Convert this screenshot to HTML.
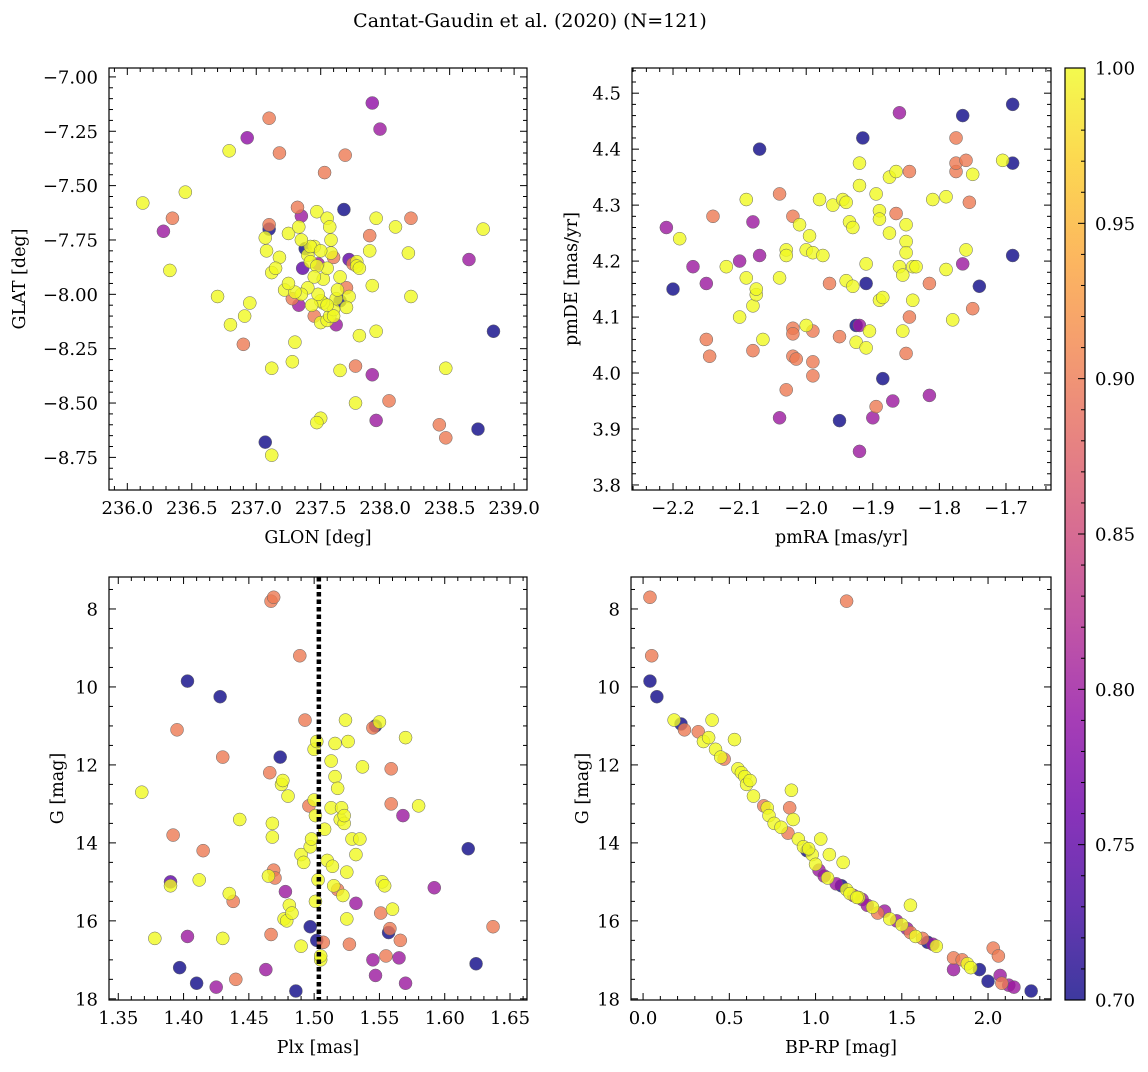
<!DOCTYPE html>
<html><head><meta charset="utf-8">
<style>
body{margin:0;background:#fff;}
svg text{font-family:"DejaVu Serif","Liberation Serif",serif;fill:#000;}
</style></head>
<body>
<svg id="fig" width="1148" height="1067" xmlns="http://www.w3.org/2000/svg">
<defs>
<linearGradient id="plasma" x1="0" y1="1" x2="0" y2="0">
<stop offset="0" stop-color="#0d0887"/><stop offset="0.1" stop-color="#41049d"/><stop offset="0.2" stop-color="#6a00a8"/><stop offset="0.3" stop-color="#8f0da4"/><stop offset="0.4" stop-color="#b12a90"/><stop offset="0.5" stop-color="#cc4778"/><stop offset="0.6" stop-color="#e16462"/><stop offset="0.7" stop-color="#f2844b"/><stop offset="0.8" stop-color="#fca636"/><stop offset="0.9" stop-color="#fcce25"/><stop offset="1" stop-color="#f0f921"/>
</linearGradient>
</defs>
<text x="530" y="27" text-anchor="middle" font-size="19">Cantat-Gaudin et al. (2020) (N=121)</text>
</svg>
<script>
// Panel 1: GLON / GLAT
const glon=[236.12,236.35,236.28,236.33,236.45,236.79,236.93,237.10,237.18,237.90,237.96,237.53,237.69,236.70,236.80,236.91,236.95,236.90,237.07,237.12,237.12,237.28,237.30,237.07,237.08,237.10,237.10,237.12,237.18,237.15,237.22,237.25,237.28,237.32,237.35,237.33,237.38,237.36,237.40,237.42,237.45,237.48,237.47,237.55,237.57,237.58,237.60,237.68,237.72,237.75,237.78,237.78,237.88,237.93,238.08,238.20,238.18,238.20,238.76,238.65,238.84,238.47,238.72,238.42,238.47,238.03,237.90,237.93,237.93,237.90,237.77,237.77,237.80,237.65,237.50,237.47,237.45,237.50,237.55,237.57,237.60,237.62,237.65,237.62,237.63,237.70,237.72,237.70,237.52,237.50,237.48,237.43,237.40,237.35,237.33,237.30,237.52,237.55,237.47,237.45,237.65,237.80,237.88,237.42,237.50,237.58,237.35,237.60,237.55,237.25];
const glat=[-7.58,-7.65,-7.71,-7.89,-7.53,-7.34,-7.28,-7.19,-7.35,-7.12,-7.24,-7.44,-7.36,-8.01,-8.14,-8.10,-8.04,-8.23,-8.68,-8.74,-8.34,-8.31,-8.22,-7.74,-7.80,-7.68,-7.70,-7.90,-7.83,-7.88,-7.98,-7.72,-8.02,-7.60,-7.64,-7.69,-7.79,-7.88,-7.82,-7.85,-7.78,-7.86,-7.62,-7.65,-7.69,-7.81,-7.83,-7.61,-7.84,-7.86,-7.85,-7.87,-7.73,-7.65,-7.69,-7.65,-7.81,-8.01,-7.70,-7.84,-8.17,-8.34,-8.62,-8.60,-8.66,-8.49,-8.37,-8.58,-8.17,-7.96,-8.33,-8.50,-8.19,-8.35,-8.57,-8.59,-8.10,-8.13,-8.12,-8.10,-8.07,-8.14,-8.03,-8.02,-7.98,-7.97,-8.01,-8.06,-8.04,-8.03,-8.00,-8.05,-7.97,-8.00,-8.05,-7.99,-7.93,-7.88,-7.87,-7.92,-7.92,-7.88,-7.80,-7.78,-7.80,-7.75,-7.75,-8.10,-8.05,-7.95];
const prob1=[1,.9,.8,1,1,1,.79,.9,.9,.79,.8,.9,.9,1,1,1,1,.9,.7,1,1,1,1,1,1,.9,.7,1,1,1,1,1,.9,.9,.8,1,.7,.75,1,1,1,.8,1,1,1,1,.9,.7,.75,.9,1,1,.9,1,1,.9,1,1,1,.8,.7,1,.7,.9,.9,.9,.8,.8,1,1,.9,1,1,1,1,1,.9,1,1,1,1,.8,.7,1,1,.9,1,1,1,1,1,1,1,1,.8,1,1,1,1,1,1,1,1,1,1,1,1,1,1,1];
// Panel 2: pmRA / pmDE
const pmra=[-2.21,-2.19,-2.2,-2.17,-2.15,-2.14,-2.15,-2.145,-2.12,-2.10,-2.09,-2.10,-2.09,-2.08,-2.075,-2.075,-2.08,-2.07,-2.07,-2.065,-2.08,-2.04,-2.04,-2.03,-2.03,-2.03,-2.04,-2.02,-2.02,-2.02,-2.02,-2.015,-2.01,-2.00,-2.00,-1.995,-1.99,-1.99,-1.99,-1.99,-1.98,-1.975,-1.965,-1.96,-1.95,-1.95,-1.945,-1.94,-1.94,-1.935,-1.93,-1.93,-1.925,-1.92,-1.925,-1.92,-1.92,-1.915,-1.91,-1.91,-1.905,-1.91,-1.9,-1.895,-1.92,-1.89,-1.89,-1.89,-1.885,-1.885,-1.875,-1.875,-1.87,-1.865,-1.865,-1.86,-1.86,-1.855,-1.85,-1.85,-1.85,-1.855,-1.85,-1.845,-1.845,-1.84,-1.84,-1.835,-1.815,-1.815,-1.81,-1.79,-1.79,-1.78,-1.775,-1.775,-1.775,-1.765,-1.765,-1.76,-1.76,-1.755,-1.75,-1.75,-1.74,-1.705,-1.69,-1.69,-1.69,-1.895];
const pmde=[4.26,4.24,4.15,4.19,4.16,4.28,4.06,4.03,4.19,4.20,4.31,4.10,4.17,4.12,4.14,4.15,4.27,4.21,4.40,4.06,4.04,4.32,4.17,4.22,4.21,3.97,3.92,4.28,4.08,4.07,4.03,4.025,4.265,4.22,4.085,4.245,4.215,4.075,4.02,3.995,4.31,4.21,4.16,4.30,4.065,3.915,4.31,4.305,4.165,4.27,4.26,4.155,4.085,4.085,4.055,4.375,4.335,4.42,4.16,4.195,4.075,4.045,3.92,3.94,3.86,4.29,4.275,4.13,4.135,3.99,4.25,4.35,3.95,4.36,4.285,4.465,4.19,4.175,4.235,4.215,4.265,4.075,4.035,4.36,4.10,4.13,4.19,4.19,4.16,3.96,4.31,4.315,4.185,4.095,4.42,4.36,4.375,4.46,4.195,4.38,4.22,4.305,4.355,4.115,4.155,4.38,4.48,4.375,4.21,4.32];
const prob2=[.8,1,.7,.8,.8,.9,.9,.9,1,.8,1,1,1,1,1,1,.8,.8,.7,1,.9,.9,1,1,1,.9,.8,.9,.9,.9,.9,.9,1,1,1,1,1,.9,.9,.9,1,1,.9,1,.9,.7,1,1,1,1,1,1,.7,.8,1,1,1,.7,.7,1,1,1,.8,.9,.8,1,1,1,1,.7,1,1,.8,1,.9,.8,1,1,1,1,1,1,.9,.9,.9,1,1,1,.9,.8,1,1,1,1,.9,.9,.9,.7,.8,.9,1,.9,1,.9,.7,1,.7,.7,.7,1];
// Panel 3: Plx / G
const plx=[1.368,1.378,1.39,1.39,1.392,1.395,1.397,1.403,1.403,1.41,1.412,1.415,1.425,1.428,1.43,1.43,1.435,1.438,1.44,1.443,1.463,1.465,1.466,1.467,1.469,1.468,1.468,1.469,1.467,1.47,1.474,1.475,1.476,1.478,1.477,1.479,1.48,1.481,1.483,1.486,1.489,1.49,1.49,1.492,1.493,1.496,1.497,1.497,1.498,1.5,1.5,1.501,1.501,1.502,1.502,1.505,1.505,1.503,1.507,1.508,1.51,1.513,1.513,1.514,1.515,1.516,1.518,1.516,1.518,1.52,1.521,1.522,1.523,1.523,1.524,1.525,1.525,1.526,1.527,1.529,1.532,1.532,1.535,1.537,1.545,1.545,1.547,1.547,1.55,1.551,1.552,1.554,1.555,1.557,1.558,1.559,1.559,1.56,1.566,1.565,1.568,1.57,1.57,1.58,1.592,1.618,1.624,1.637];
const gmag3=[12.7,16.45,15.0,15.1,13.8,11.1,17.2,9.85,16.4,17.6,14.95,14.2,17.7,10.25,11.8,16.45,15.3,15.5,17.5,13.4,17.25,14.85,12.2,7.8,7.7,13.5,13.85,14.7,16.35,14.9,11.8,12.5,12.4,15.25,15.95,16.0,12.8,15.6,15.8,17.8,9.2,14.3,16.65,14.5,10.85,13.05,16.15,14.1,13.9,11.6,12.9,13.3,15.5,16.5,11.4,17.0,16.9,14.95,16.55,13.65,14.45,11.9,13.1,14.6,15.1,12.3,12.6,11.45,15.2,13.4,13.1,15.35,13.5,13.3,10.85,14.75,15.95,11.4,16.6,13.9,14.3,15.55,13.9,12.05,17.0,11.05,17.4,11.0,10.9,15.8,15.0,15.1,16.9,16.3,16.2,13.0,12.1,15.7,16.5,16.95,13.3,17.6,11.3,13.05,15.15,14.15,17.1,16.15];
const prob3=[1,1,.75,1,.9,.9,.7,.7,.8,.7,1,.9,.8,.7,.9,1,1,.9,.9,1,.8,1,.9,.9,.9,1,1,.9,.9,.9,.7,1,1,.8,1,1,1,1,1,.7,.9,1,1,1,.9,.9,.7,1,1,1,1,1,1,.7,1,1,1,1,.9,1,1,1,1,1,1,1,1,1,.9,1,1,1,1,1,1,1,1,1,.9,1,1,.8,1,1,.8,.9,.8,.7,1,.9,1,1,.9,.7,.9,.9,.9,1,.9,.8,.8,.8,1,1,.8,.7,.7,.9];
const meanPlx=1.5036;
// Panel 4: BP-RP / G
const bprp=[0.04,1.18,0.05,0.04,0.08,0.18,0.22,0.24,0.32,0.35,0.38,0.40,0.42,0.45,0.47,0.53,0.55,0.57,0.59,0.60,0.62,0.64,0.70,0.72,0.73,0.76,0.80,0.84,0.85,0.86,0.87,0.90,0.93,0.95,0.98,1.00,1.02,1.03,1.05,1.07,1.08,1.12,1.15,1.16,1.18,1.20,1.22,1.25,1.27,1.30,1.33,1.36,1.40,1.43,1.47,1.50,1.53,1.55,1.55,1.58,1.62,1.65,1.68,1.70,1.80,1.80,1.85,1.88,1.90,1.95,2.00,2.03,2.06,2.07,2.08,2.12,2.15,2.25,1.24,0.96];
const gmag4=[7.7,7.8,9.2,9.85,10.25,10.85,10.95,11.1,11.15,11.4,11.3,10.85,11.6,11.8,11.85,11.35,12.1,12.2,12.3,12.5,12.4,12.8,13.05,13.1,13.3,13.5,13.6,13.75,13.1,12.65,13.4,13.9,14.1,14.2,14.3,14.55,14.7,13.9,14.85,14.9,14.3,15.05,15.1,14.5,15.2,15.3,15.35,15.4,15.45,15.6,15.65,15.8,15.75,15.95,16.0,16.1,16.2,15.6,16.3,16.4,16.45,16.55,16.6,16.65,16.95,17.25,17.0,17.1,17.2,17.25,17.55,16.7,16.9,17.4,17.6,17.65,17.7,17.8,15.4,14.15];
const prob4=[.9,.9,.9,.7,.7,1,.7,.9,.9,1,1,1,1,1,.9,1,1,1,1,1,1,1,.9,1,1,1,1,.9,.9,1,1,1,1,.7,1,1,.8,1,.8,1,1,.8,.7,1,1,1,.8,1,.8,.8,1,.9,.8,1,.8,1,.8,1,.9,1,.9,.7,.8,1,.9,.8,.9,1,1,.7,.7,.9,.9,.8,.9,.8,.8,.7,1,1];
const cbTicks=[0.70,0.75,0.80,0.85,0.90,0.95,1.00];

const NS='http://www.w3.org/2000/svg';
const svg=document.getElementById('fig');
function mk(tag,attrs,parent){const e=document.createElementNS(NS,tag);for(const k in attrs)e.setAttribute(k,attrs[k]);(parent||svg).appendChild(e);return e;}
const stops=[[13,8,135],[65,4,157],[106,0,168],[143,13,164],[177,42,144],[204,71,120],[225,100,98],[242,132,75],[252,166,54],[252,206,37],[240,249,33]];
function plasma(p){let t=(p-0.7)/0.3;t=Math.max(0,Math.min(1,t))*10;const i=Math.min(9,Math.floor(t)),f=t-i;const a=stops[i],b=stops[i+1];return 'rgb('+a.map((v,k)=>Math.round(v+(b[k]-v)*f)).join(',')+')';}
function fmt(v,d){return (v<0?'\u2212':'')+Math.abs(v).toFixed(d);}

function panel(o){
  const g=mk('g',{});
  
  
  const L=o.box[0],T=o.box[1],R=o.box[2],B=o.box[3];
  const sx=v=>L+(v-o.xr[0])/(o.xr[1]-o.xr[0])*(R-L);
  const sy=o.yinv?(v=>T+(v-o.yr[0])/(o.yr[1]-o.yr[0])*(B-T)):(v=>B-(v-o.yr[0])/(o.yr[1]-o.yr[0])*(B-T));
  const clip='clip-'+o.name;
  const cp=mk('clipPath',{id:clip},g);mk('rect',{x:L,y:T,width:R-L,height:B-T},cp);
  const pts=mk('g',{'clip-path':'url(#'+clip+')'},g);
  
  
  const idx=o.x.map((_,i)=>i).sort((a,b)=>o.p[a]-o.p[b]);
  for(const i of idx){const c=mk('circle',{cx:sx(o.x[i]),cy:sy(o.y[i]),r:6.5,fill:plasma(o.p[i]),'fill-opacity':0.8,stroke:'#666','stroke-width':0.5},pts);
    
    }
  if(o.vline!==undefined){const ln=mk('line',{x1:sx(o.vline),x2:sx(o.vline),y1:T,y2:B,stroke:'#000','stroke-width':4.5,'stroke-dasharray':'4.5,3'},g);
    
    }
  mk('rect',{x:L,y:T,width:R-L,height:B-T,fill:'none',stroke:'#000','stroke-width':1.2},g);
  const eps=1e-9;
  for(let v=Math.ceil(o.xr[0]/o.xmin-eps)*o.xmin;v<=o.xr[1]+eps;v+=o.xmin){const X=sx(v);const maj=Math.abs(v/o.xmaj-Math.round(v/o.xmaj))<1e-6;const len=maj?7:4;
    mk('line',{x1:X,x2:X,y1:B,y2:B-len,stroke:'#000','stroke-width':1},g);mk('line',{x1:X,x2:X,y1:T,y2:T+len,stroke:'#000','stroke-width':1},g);
    if(maj){const t=mk('text',{x:X,y:B+24,'text-anchor':'middle','font-size':18},g);t.textContent=fmt(v,o.xd);
      
      }}
  for(let v=Math.ceil(o.yr[0]/o.ymin-eps)*o.ymin;v<=o.yr[1]+eps;v+=o.ymin){const Y=sy(v);const maj=Math.abs(v/o.ymaj-Math.round(v/o.ymaj))<1e-6;const len=maj?7:4;
    mk('line',{x1:L,x2:L+len,y1:Y,y2:Y,stroke:'#000','stroke-width':1},g);mk('line',{x1:R,x2:R-len,y1:Y,y2:Y,stroke:'#000','stroke-width':1},g);
    if(maj){const t=mk('text',{x:L-11,y:Y+6.5,'text-anchor':'end','font-size':18},g);t.textContent=fmt(v,o.yd);
      
      }}
  const xl=mk('text',{x:(L+R)/2,y:B+53,'text-anchor':'middle','font-size':17.5},g);xl.textContent=o.xlab;
  
  
  const yl=mk('text',{x:0,y:0,'text-anchor':'middle','font-size':17.5,transform:'translate('+o.ylx+','+(T+B)/2+') rotate(-90)'},g);yl.textContent=o.ylab;
  
  
}
panel({name:'sky-position-panel',box:[109,68,527,490],x:glon,y:glat,p:prob1,xr:[235.858,239.10],yr:[-8.90,-6.959],xmaj:0.5,xmin:0.1,ymaj:0.25,ymin:0.05,xd:1,yd:2,xlab:'GLON [deg]',ylab:'GLAT [deg]',ylx:25});
panel({name:'proper-motion-panel',box:[632,68,1051,490],x:pmra,y:pmde,p:prob2,xr:[-2.2616,-1.6324],yr:[3.791,4.545],xmaj:0.1,xmin:0.02,ymaj:0.1,ymin:0.02,xd:1,yd:1,xlab:'pmRA [mas/yr]',ylab:'pmDE [mas/yr]',ylx:577});
panel({name:'parallax-magnitude-panel',box:[109,577,527,1000],x:plx,y:gmag3,p:prob3,xr:[1.3429,1.663],yr:[7.18,18.03],yinv:true,xmaj:0.05,xmin:0.01,ymaj:2,ymin:0.5,xd:2,yd:0,xlab:'Plx [mas]',ylab:'G [mag]',ylx:63,vline:meanPlx});
panel({name:'cmd-panel',box:[631,577,1051,1000],x:bprp,y:gmag4,p:prob4,xr:[-0.07,2.365],yr:[7.18,18.03],yinv:true,xmaj:0.5,xmin:0.1,ymaj:2,ymin:0.5,xd:1,yd:0,xlab:'BP-RP [mag]',ylab:'G [mag]',ylx:588});
// colorbar
const cb=mk('g',{});


const cT=68,cB=1000,cL=1065,cR=1085;
mk('rect',{x:cL,y:cT,width:cR-cL,height:cB-cT,fill:'url(#plasma)','fill-opacity':0.8},cb);
mk('rect',{x:cL,y:cT,width:cR-cL,height:cB-cT,fill:'none',stroke:'#000','stroke-width':1.2},cb);
const cy=v=>cB-(v-0.7)/0.3*(cB-cT);
for(let k=0;k<=30;k++){const v=0.7+k*0.01;const Y=cy(v);const maj=k%5===0;mk('line',{x1:cR,x2:cR-(maj?7:4),y1:Y,y2:Y,stroke:'#000','stroke-width':1},cb);}
for(const v of cbTicks){const t=mk('text',{x:cR+10,y:cy(v)+6.5,'font-size':18},cb);t.textContent=v.toFixed(2);
  
  }
</script>
</body></html>
